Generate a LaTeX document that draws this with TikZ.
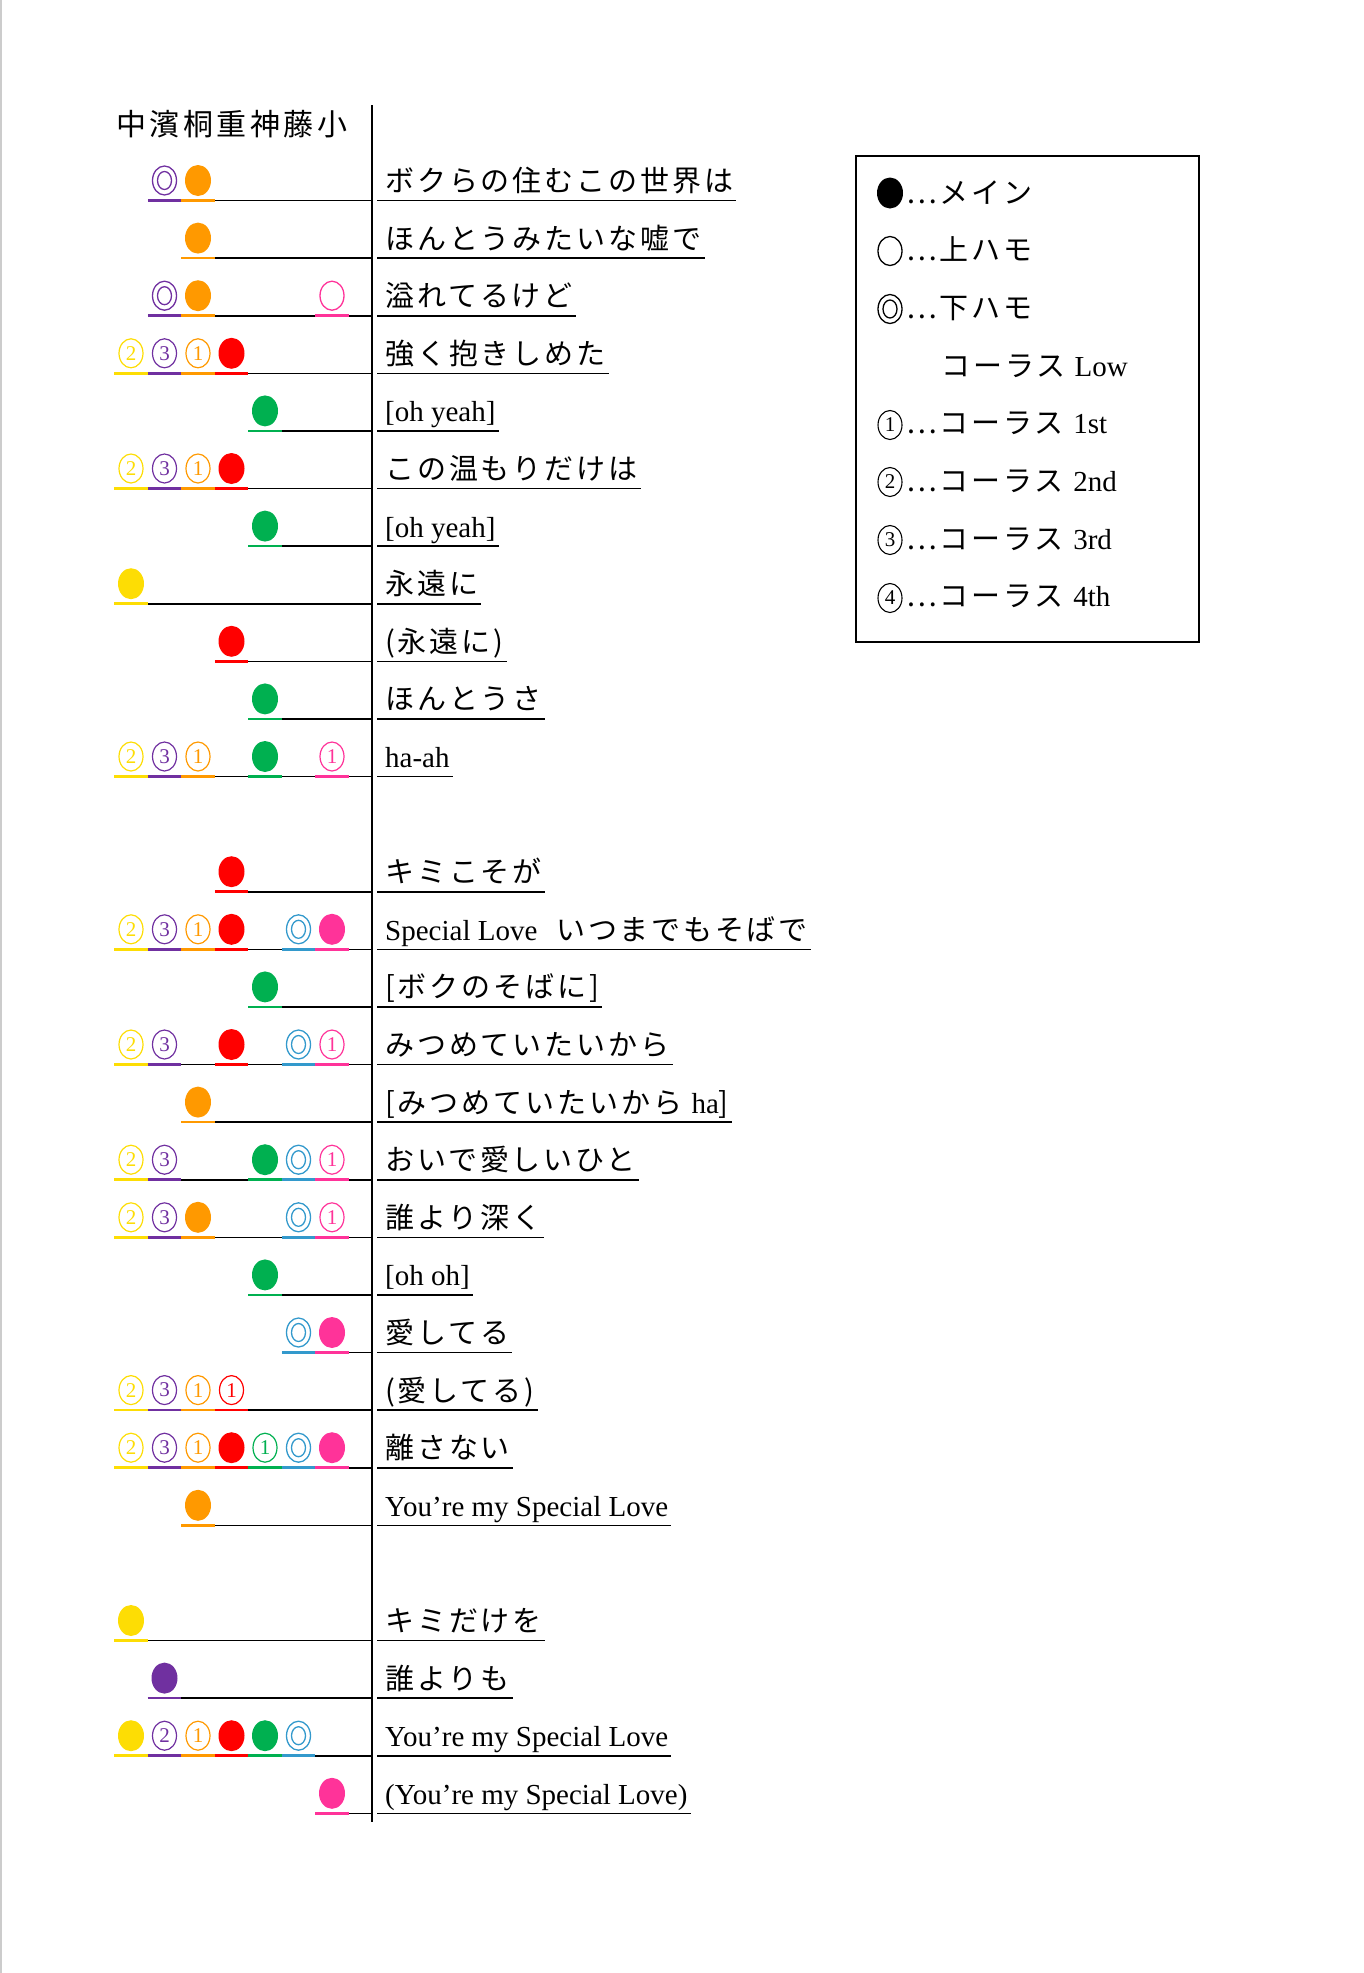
\documentclass[tikz,border=0pt]{standalone}
\usepackage{fontspec}
\setmainfont[LetterSpace=10]{Noto Sans CJK JP}
\newfontfamily\lat{Liberation Serif}
\usetikzlibrary{positioning}
\colorlet{cnaka}{yellow!80!orange}
\definecolor{chama}{HTML}{7030A0}
\definecolor{ckiri}{HTML}{FF9900}
\definecolor{cshige}{HTML}{FF0000}
\definecolor{ckami}{HTML}{00B050}
\definecolor{cfuji}{HTML}{3399CC}
\definecolor{csho}{HTML}{FF3399}
% one lyric row: slot, leftmost column, text, marks col/type/colour/digit
\newcommand\lyric[4]{%
  \pgfmathsetmacro\y{180.5+57.6*#1}
  \pgfmathsetmacro\xl{131+33.5*(#2-1)-16.75}
  \node[lyr] (t#1) at (385,\y+11) {#3};
  \draw[uline] (\xl,\y+20) -- (372,\y+20);
  \draw[uline] (t#1.base west)++(-8,9) -- ([shift={(3,9)}]t#1.base east);
  \foreach \c/\s/\col/\t in {#4}{
    \pgfmathsetmacro\x{131+33.5*(\c-1)}
    \node[mk] (m#1-\c) at (\x,\y) {};
    \draw[\col,line width=2.5] (\x-16.75,\y+20) -- (\x+16.75,\y+20);
    \ifcase\s
      \fill[\col] (m#1-\c) ellipse [x radius=13,y radius=15.5];
    \or
      \draw[\col,line width=1.3] (m#1-\c) ellipse [x radius=12,y radius=14.5];
    \or
      \draw[\col,line width=1.3] (m#1-\c) ellipse [x radius=12,y radius=14.5]
        ellipse [x radius=7,y radius=9];
    \or
      \draw[\col,line width=1.2] (m#1-\c) ellipse [x radius=12,y radius=14.5];
      \node[text=\col,font=\lat\fontsize{21}{21}\selectfont] at (m#1-\c) {\t};
    \fi
  }}
\begin{document}
\begin{tikzpicture}[x=1pt,y=-1pt,
  lyr/.style={anchor=base west,inner sep=0pt,font=\fontsize{29}{29}\selectfont},
  uline/.style={line width=1.6pt},
  mk/.style={inner sep=0pt,minimum size=26pt},
  lgd/.style={anchor=base west,inner sep=0pt,font=\fontsize{29}{29}\selectfont}
  ]
\useasboundingbox (0,0) rectangle (1363,1973);
\draw[gray!40,line width=2] (1,0) -- (1,1973);
% header and divider
\foreach \n [count=\k] in {中,濱,桐,重,神,藤,小}
  \node[font=\fontsize{30}{30}\selectfont,inner sep=0pt] (h\k) at ({131+33.5*(\k-1)},124) {\n};
\draw[line width=1.6pt] (372,105) coordinate (vtop) -- (372,1822) coordinate (vbot);
% first part
\lyric{0}{2}{ボクらの住むこの世界は}{2/2/chama/,3/0/ckiri/}
\lyric{1}{3}{ほんとうみたいな嘘で}{3/0/ckiri/}
\lyric{2}{2}{溢れてるけど}{2/2/chama/,3/0/ckiri/,7/1/csho/}
\lyric{3}{1}{強く抱きしめた}{1/3/cnaka/2,2/3/chama/3,3/3/ckiri/1,4/0/cshige/}
\lyric{4}{5}{{\lat[oh yeah]}}{5/0/ckami/}
\lyric{5}{1}{この温もりだけは}{1/3/cnaka/2,2/3/chama/3,3/3/ckiri/1,4/0/cshige/}
\lyric{6}{5}{{\lat[oh yeah]}}{5/0/ckami/}
\lyric{7}{1}{永遠に}{1/0/cnaka/}
\lyric{8}{4}{(永遠に)}{4/0/cshige/}
\lyric{9}{5}{ほんとうさ}{5/0/ckami/}
\lyric{10}{1}{{\lat ha-ah}}{1/3/cnaka/2,2/3/chama/3,3/3/ckiri/1,5/0/ckami/,7/3/csho/1}
% second part
\lyric{12}{4}{キミこそが}{4/0/cshige/}
\lyric{13}{1}{{\lat Special Love}\ \ いつまでもそばで}{1/3/cnaka/2,2/3/chama/3,3/3/ckiri/1,4/0/cshige/,6/2/cfuji/,7/0/csho/}
\lyric{14}{5}{[ボクのそばに]}{5/0/ckami/}
\lyric{15}{1}{みつめていたいから}{1/3/cnaka/2,2/3/chama/3,4/0/cshige/,6/2/cfuji/,7/3/csho/1}
\lyric{16}{3}{[みつめていたいから\ {\lat ha}]}{3/0/ckiri/}
\lyric{17}{1}{おいで愛しいひと}{1/3/cnaka/2,2/3/chama/3,5/0/ckami/,6/2/cfuji/,7/3/csho/1}
\lyric{18}{1}{誰より深く}{1/3/cnaka/2,2/3/chama/3,3/0/ckiri/,6/2/cfuji/,7/3/csho/1}
\lyric{19}{5}{{\lat[oh oh]}}{5/0/ckami/}
\lyric{20}{6}{愛してる}{6/2/cfuji/,7/0/csho/}
\lyric{21}{1}{(愛してる)}{1/3/cnaka/2,2/3/chama/3,3/3/ckiri/1,4/3/cshige/1}
\lyric{22}{1}{離さない}{1/3/cnaka/2,2/3/chama/3,3/3/ckiri/1,4/0/cshige/,5/3/ckami/1,6/2/cfuji/,7/0/csho/}
\lyric{23}{3}{{\lat You’re my Special Love}}{3/0/ckiri/}
% third part
\lyric{25}{1}{キミだけを}{1/0/cnaka/}
\lyric{26}{2}{誰よりも}{2/0/chama/}
\lyric{27}{1}{{\lat You’re my Special Love}}{1/0/cnaka/,2/3/chama/2,3/3/ckiri/1,4/0/cshige/,5/0/ckami/,6/2/cfuji/}
\lyric{28}{7}{{\lat (You’re my Special Love)}}{7/0/csho/}
% legend
\node[draw,line width=1.6pt,inner sep=0pt,minimum width=343,minimum height=486,anchor=north west] (legend) at (855,155) {};
\foreach \lbl [count=\i from 0] in {…メイン,…上ハモ,…下ハモ,{\hspace*{35pt}コーラス {\lat Low}},…コーラス {\lat 1st},…コーラス {\lat 2nd},…コーラス {\lat 3rd},…コーラス {\lat 4th}}
  \node[lgd] (l\i) at (906,{203+57.7*\i}) {\lbl};
\fill (890,193) ellipse [x radius=13,y radius=15.5];
\draw[line width=1.3] (890,251) ellipse [x radius=12,y radius=14.5];
\draw[line width=1.3] (890,309) ellipse [x radius=12,y radius=14.5] ellipse [x radius=7,y radius=9];
\foreach \d/\yy in {1/425,2/482,3/540,4/598}{
  \draw[line width=1.1] (890,\yy) ellipse [x radius=12,y radius=14.5];
  \node[font=\lat\fontsize{21}{21}\selectfont] (ld\d) at (890,\yy) {\d};}
\end{tikzpicture}
\end{document}
